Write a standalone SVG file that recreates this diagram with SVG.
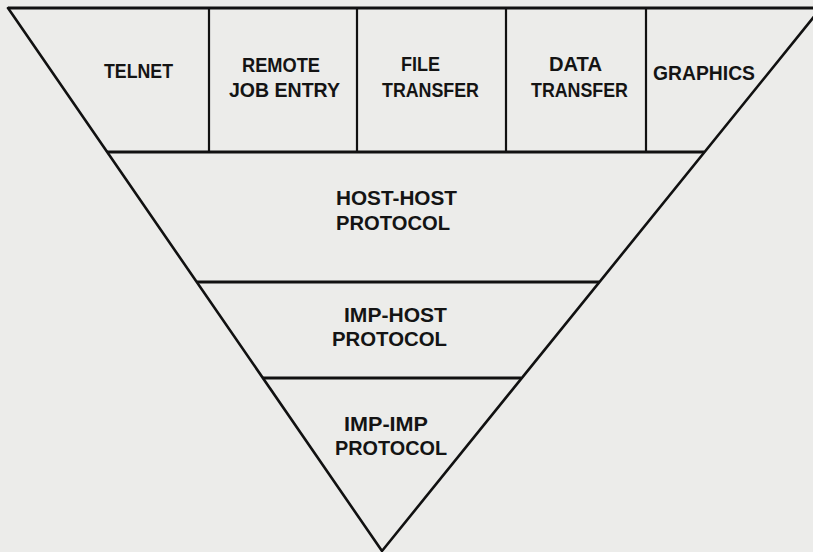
<svg xmlns="http://www.w3.org/2000/svg" width="813" height="552" viewBox="0 0 813 552">
<style>
.bg{fill:#ececea}
.edge{fill:none;stroke:#111;stroke-width:2.6;stroke-linecap:round;stroke-linejoin:round}
.band{stroke:#111;stroke-width:3;fill:none}
.div{stroke:#111;stroke-width:2.2}
text{font-family:"Liberation Sans","DejaVu Sans",Arial,sans-serif;font-weight:bold;font-size:21px;fill:#141414}
</style>
<rect class="bg" x="0" y="0" width="813" height="552"/>
<g id="connectors">
<polyline class="edge" points="8,8 382,551 821,8"/>
<line class="band" x1="8" y1="8" x2="821" y2="8"/>
<line class="band" x1="107" y1="152" x2="704" y2="152"/>
<line class="band" x1="197" y1="282" x2="599" y2="282"/>
<line class="band" x1="263" y1="378" x2="521" y2="378"/>
<line class="div" x1="209" y1="8" x2="209" y2="152"/>
<line class="div" x1="357" y1="8" x2="357" y2="152"/>
<line class="div" x1="506" y1="8" x2="506" y2="152"/>
<line class="div" x1="646" y1="8" x2="646" y2="152"/>
</g>
<g id="telnet"><text x="104" y="78" textLength="69" lengthAdjust="spacingAndGlyphs">TELNET</text></g>
<g id="rje">
<text x="242" y="72" textLength="78" lengthAdjust="spacingAndGlyphs">REMOTE</text>
<text x="229" y="97" textLength="111" lengthAdjust="spacingAndGlyphs">JOB ENTRY</text>
</g>
<g id="file-transfer">
<text x="401" y="71" textLength="39" lengthAdjust="spacingAndGlyphs">FILE</text>
<text x="382" y="97" textLength="97" lengthAdjust="spacingAndGlyphs">TRANSFER</text>
</g>
<g id="data-transfer">
<text x="549" y="71" textLength="53" lengthAdjust="spacingAndGlyphs">DATA</text>
<text x="531" y="97" textLength="97" lengthAdjust="spacingAndGlyphs">TRANSFER</text>
</g>
<g id="graphics"><text x="653" y="80" textLength="102" lengthAdjust="spacingAndGlyphs">GRAPHICS</text></g>
<g id="host-host">
<text x="336" y="205" textLength="121" lengthAdjust="spacingAndGlyphs">HOST-HOST</text>
<text x="336" y="230" textLength="114" lengthAdjust="spacingAndGlyphs">PROTOCOL</text>
</g>
<g id="imp-host">
<text x="344" y="322" textLength="103" lengthAdjust="spacingAndGlyphs">IMP-HOST</text>
<text x="332" y="346" textLength="115" lengthAdjust="spacingAndGlyphs">PROTOCOL</text>
</g>
<g id="imp-imp">
<text x="344" y="431" textLength="84" lengthAdjust="spacingAndGlyphs">IMP-IMP</text>
<text x="335" y="455" textLength="112" lengthAdjust="spacingAndGlyphs">PROTOCOL</text>
</g>
</svg>
